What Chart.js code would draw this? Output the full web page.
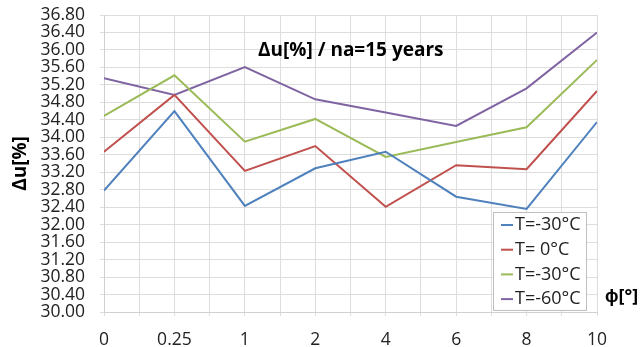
<!DOCTYPE html>
<html>
<head>
<meta charset="utf-8">
<script src="https://cdn.jsdelivr.net/npm/chart.js@4.4.1/dist/chart.umd.min.js"></script>
<style>
  html, body { margin: 0; padding: 0; background: #fff; }
  #wrap { width: 644px; height: 347px; }
</style>
</head>
<body>
<div id="wrap"><canvas id="chart" width="644" height="347"></canvas></div>
<script>
const categories = ['0', '0.25', '1', '2', '4', '6', '8', '10'];
const seriesLabels = ['T=-30°C', 'T= 0°C', 'T=-30°C', 'T=-60°C'];
const seriesColors = ['#4F81BD', '#C0504D', '#9BBB59', '#8064A2'];

const tMinus30a = [32.78, 34.60, 32.43, 33.29, 33.67, 32.64, 32.36, 34.35];
const tZero = [33.67, 34.97, 33.23, 33.80, 32.41, 33.36, 33.27, 35.06];
const tMinus30b = [34.49, 35.42, 33.90, 34.42, 33.55, 33.89, 34.23, 35.77];
const tMinus60 = [35.35, 34.97, 35.61, 34.87, 34.57, 34.26, 35.12, 36.40];

const yMin = 30.0;
const yMax = 36.8;
const yStep = 0.4;

const chartTitle = 'Δu[%] / na=15 years';
const yTitle = 'Δu[%]';
const xTitle = 'ϕ[°]';

const FONT = '"Open Sans", sans-serif';
const allSeries = [tMinus30a, tZero, tMinus30b, tMinus60];

const datasets = allSeries.map((vals, i) => ({
    label: seriesLabels[i],
    data: vals.map((v, j) => ({ x: j, y: v })),
    borderColor: seriesColors[i],
    backgroundColor: seriesColors[i],
    borderWidth: 2,
    pointRadius: 0,
    tension: 0,
}));

// texts and legend drawn inside the plot area, like the Excel original
const overlay = {
    id: 'overlay',
    afterDatasetsDraw(chart) {
        const ctx = chart.ctx;
        const a = chart.chartArea;
        ctx.save();

        ctx.fillStyle = '#000';
        ctx.font = 'bold 19px ' + FONT;
        ctx.textBaseline = 'middle';
        ctx.textAlign = 'left';
        ctx.fillText(chartTitle, a.left + 154, a.top + 36);

        ctx.font = 'bold 18px ' + FONT;
        ctx.fillText(xTitle, a.right + 8, a.bottom - 15);

        // legend box
        const w = 93, h = 98;
        const x0 = a.right - 11 - w;
        const y0 = a.bottom - 2 - h;
        ctx.fillStyle = '#fff';
        ctx.fillRect(x0, y0, w, h);
        ctx.strokeStyle = '#BFBFBF';
        ctx.lineWidth = 1;
        ctx.strokeRect(x0 + 0.5, y0 + 0.5, w, h);
        ctx.font = '18px ' + FONT;
        chart.data.datasets.forEach((ds, i) => {
            const cy = y0 + 13 + i * 24.7;
            ctx.strokeStyle = ds.borderColor;
            ctx.lineWidth = 2;
            ctx.beginPath();
            ctx.moveTo(x0 + 8, cy);
            ctx.lineTo(x0 + 20, cy);
            ctx.stroke();
            ctx.fillStyle = '#222';
            ctx.fillText(ds.label, x0 + 22, cy);
        });
        ctx.restore();
    }
};

new Chart(document.getElementById('chart'), {
    type: 'line',
    data: { datasets },
    plugins: [overlay],
    options: {
        responsive: false,
        animation: false,
        layout: { padding: { top: 15, right: 47, left: 0, bottom: 0 } },
        plugins: {
            legend: { display: false },
            tooltip: { enabled: false },
        },
        scales: {
            x: {
                type: 'linear',
                min: 0,
                max: categories.length - 1,
                afterFit(scale) {
                    scale.height = 35;
                    scale.paddingLeft = 0;
                    scale.paddingRight = 0;
                },
                ticks: {
                    stepSize: 0.5,
                    autoSkip: false,
                    maxRotation: 0,
                    padding: 14,
                    color: '#222',
                    font: { family: FONT, size: 17.5 },
                    callback: (v) => Number.isInteger(v) ? categories[v] : '',
                },
                grid: { color: '#DDDDDD', tickLength: 4 },
                border: { color: '#D0D0D0' },
            },
            y: {
                min: yMin,
                max: yMax,
                afterFit(scale) {
                    scale.width = 104;
                    scale.paddingTop = 0;
                    scale.paddingBottom = 0;
                },
                ticks: {
                    stepSize: yStep,
                    autoSkip: false,
                    padding: 15,
                    color: '#222',
                    font: { family: FONT, size: 17.5, lineHeight: 1 },
                    callback: (v) => v.toFixed(2),
                },
                grid: { color: '#DDDDDD', tickLength: 4 },
                border: { color: '#D0D0D0' },
                title: {
                    display: true,
                    text: yTitle,
                    color: '#000',
                    font: { family: FONT, size: 19, weight: 'bold' },
                    padding: { top: 9, bottom: 0 },
                },
            },
        },
    },
});
</script>
</body>
</html>
